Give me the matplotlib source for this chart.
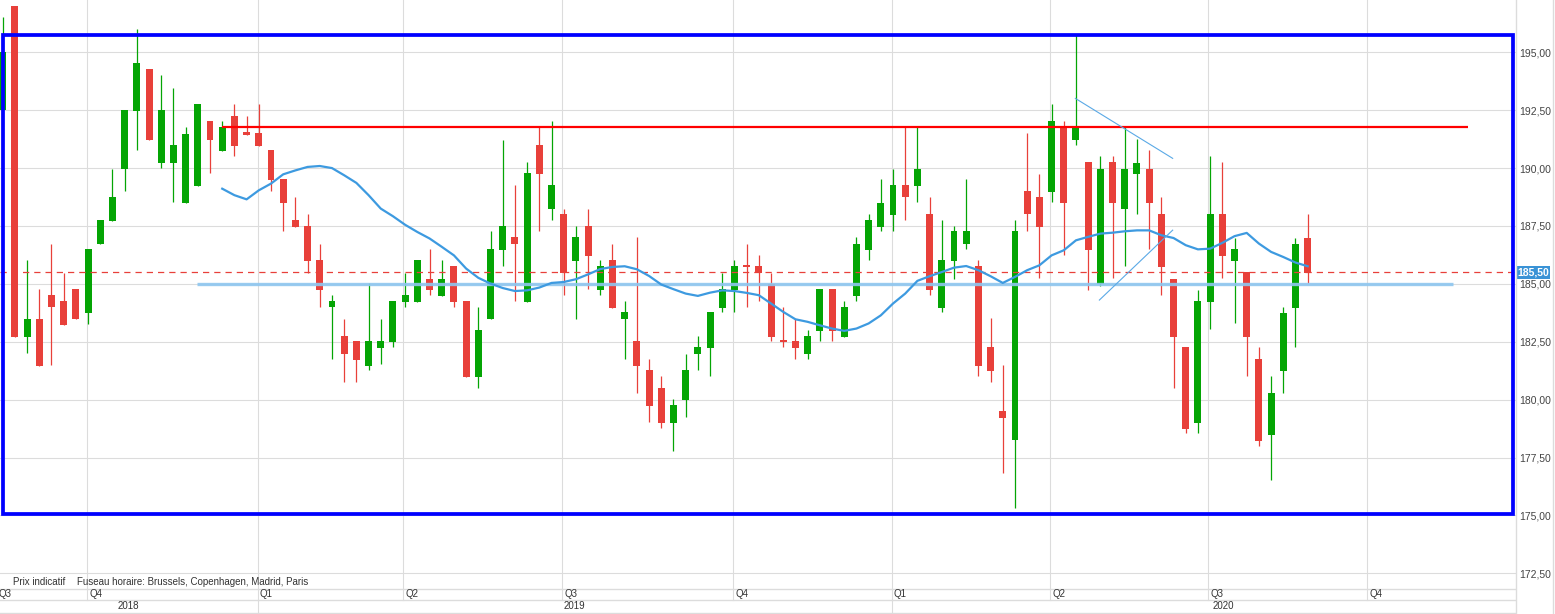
import numpy as np
import matplotlib
matplotlib.use("Agg")
import matplotlib.pyplot as plt
from matplotlib.lines import Line2D
from matplotlib.patches import Rectangle
import matplotlib.transforms as mtransforms

plt.rcParams['font.family'] = ['Liberation Sans', 'DejaVu Sans']

# Bougies hebdomadaires (open, high, low, close)
opens = [192.50, 197.00, 182.71, 183.50, 184.51, 184.25, 184.77, 183.74, 186.71, 187.72,
         189.95, 192.47, 194.27, 190.22, 190.22, 188.50, 189.24, 192.02, 190.74, 192.24,
         191.55, 191.52, 190.77, 189.52, 187.75, 187.49, 186.02, 183.98, 182.74, 182.52,
         181.46, 182.23, 182.49, 184.22, 184.22, 185.23, 184.48, 185.76, 184.25, 180.98,
         183.50, 186.45, 187.03, 184.22, 190.98, 188.22, 188.01, 185.98, 187.49, 184.72,
         186.02, 183.47, 182.53, 181.27, 180.50, 178.99, 179.97, 181.96, 182.23, 183.96,
         184.72, 185.80, 185.76, 185.01, 182.56, 182.53, 181.96, 182.97, 184.77, 182.71,
         184.48, 186.45, 187.46, 187.96, 189.26, 189.21, 188.00, 183.96, 185.98, 186.74,
         185.76, 182.28, 179.50, 178.25, 189.00, 188.75, 188.97, 191.78, 191.23, 190.26,
         184.98, 190.26, 188.22, 189.73, 189.98, 188.00, 185.23, 182.28, 178.99, 184.22,
         188.00, 185.98, 185.52, 181.74, 178.46, 181.24, 183.96, 187.00]
highs = [196.53, 197.00, 186.02, 184.77, 186.74, 185.49, 184.77, 186.49, 187.75, 189.98,
         192.50, 195.99, 194.27, 194.01, 193.48, 191.78, 192.75, 192.02, 192.02, 192.75,
         192.24, 192.75, 190.77, 189.52, 188.73, 188.00, 186.74, 184.51, 183.50, 182.52,
         185.04, 183.50, 184.25, 185.49, 186.02, 186.49, 186.02, 185.76, 184.25, 183.98,
         187.27, 191.23, 189.26, 190.25, 191.78, 192.02, 188.25, 187.49, 188.25, 186.02,
         186.74, 184.25, 187.03, 181.74, 181.01, 180.02, 181.99, 182.74, 183.79, 185.49,
         186.02, 186.74, 186.23, 185.49, 184.00, 183.50, 183.00, 184.77, 184.77, 184.25,
         187.03, 188.00, 189.52, 189.98, 191.78, 191.78, 188.75, 187.75, 187.49, 189.52,
         186.02, 183.53, 181.49, 187.75, 191.52, 189.76, 192.75, 192.02, 195.73, 190.26,
         190.51, 190.51, 191.78, 191.24, 190.77, 188.75, 185.23, 182.28, 184.75, 190.51,
         190.26, 187.00, 185.52, 182.28, 181.01, 184.00, 187.00, 188.00]
lows = [192.50, 182.71, 182.02, 181.46, 181.49, 183.21, 183.47, 183.26, 186.71, 187.72,
        189.00, 190.77, 191.20, 190.00, 188.54, 188.50, 189.24, 189.79, 190.74, 190.52,
        191.45, 190.95, 189.00, 187.27, 187.46, 185.49, 184.00, 181.74, 180.77, 180.77,
        181.30, 181.52, 182.28, 184.00, 184.22, 184.51, 184.48, 184.00, 180.98, 180.52,
        183.50, 185.77, 184.25, 184.22, 187.27, 187.75, 184.51, 183.50, 184.77, 184.51,
        183.96, 181.77, 180.29, 179.04, 178.78, 177.79, 179.25, 181.27, 181.01, 183.79,
        183.79, 184.00, 184.25, 182.53, 182.28, 181.74, 181.74, 182.53, 182.53, 182.71,
        184.25, 186.02, 187.27, 187.27, 187.75, 188.54, 184.51, 183.79, 185.23, 186.49,
        181.01, 180.77, 176.81, 175.30, 187.28, 185.27, 188.54, 186.23, 190.98, 184.75,
        184.90, 185.27, 185.76, 188.00, 186.49, 184.51, 180.51, 178.54, 178.54, 183.03,
        185.27, 183.29, 181.01, 177.99, 176.52, 180.29, 182.28, 185.04]
closes = [195.00, 182.71, 183.50, 181.46, 183.98, 183.21, 183.47, 186.49, 187.75, 188.73,
          192.50, 194.54, 191.20, 192.50, 190.98, 191.49, 192.75, 191.20, 191.78, 190.95,
          191.45, 190.95, 189.47, 188.50, 187.46, 185.99, 184.72, 184.25, 181.99, 181.73,
          182.52, 182.52, 184.25, 184.51, 186.02, 184.72, 185.23, 184.22, 180.98, 183.00,
          186.49, 187.49, 186.71, 189.79, 189.73, 189.26, 185.47, 187.03, 186.20, 185.76,
          183.96, 183.79, 181.46, 179.73, 178.99, 179.76, 181.27, 182.28, 183.79, 184.77,
          185.76, 185.72, 185.47, 182.71, 182.50, 182.23, 182.74, 184.77, 182.97, 183.98,
          186.74, 187.75, 188.51, 189.26, 188.73, 189.98, 184.72, 186.02, 187.27, 187.27,
          181.46, 181.24, 179.21, 187.27, 188.00, 187.46, 192.02, 188.50, 191.78, 186.45,
          189.98, 188.50, 189.98, 190.24, 188.50, 185.73, 182.71, 178.75, 184.25, 188.00,
          186.20, 186.49, 182.71, 178.21, 180.29, 183.76, 186.74, 185.49]

# Moyenne mobile, à partir de la bougie 18
ma_start = 18
ma_values = [189.11, 188.83, 188.65, 189.04, 189.33, 189.73, 189.90, 190.05, 190.09, 190.00,
             189.69, 189.36, 188.83, 188.25, 187.92, 187.55, 187.24, 186.96, 186.60, 186.23,
             185.66, 185.26, 185.01, 184.82, 184.69, 184.72, 184.84, 185.04, 185.08, 185.20,
             185.41, 185.64, 185.73, 185.76, 185.63, 185.34, 184.97, 184.77, 184.58, 184.48,
             184.62, 184.72, 184.69, 184.61, 184.51, 184.15, 183.79, 183.47, 183.36, 183.21,
             183.07, 182.97, 183.07, 183.29, 183.64, 184.15, 184.58, 185.13, 185.33, 185.51,
             185.70, 185.77, 185.59, 185.33, 185.04, 185.30, 185.59, 185.80, 186.23, 186.45,
             186.88, 187.03, 187.17, 187.21, 187.27, 187.31, 187.31, 187.10, 186.98, 186.67,
             186.49, 186.52, 186.77, 187.06, 187.20, 186.74, 186.38, 186.16, 185.92, 185.76]

# Axe du temps
quarter_pos = [6.95, 20.9, 32.85, 45.9, 59.9, 72.9, 85.9, 98.85, 111.9]
quarter_labels = ['Q4', 'Q1', 'Q2', 'Q3', 'Q4', 'Q1', 'Q2', 'Q3', 'Q4']
year_labels = ['2018', '2019', '2020']
year_bounds = [-0.22, 20.9, 72.9, 127.3]

# Tracés (niveaux / lignes dessinées)
last_price = 185.50
resistance = (17.97, 120.15, 191.76)
support = (15.96, 118.9, 185.0)
box = (0.02, 123.8, 175.07, 195.73)
trend_down = ([87.95, 95.93], [193.01, 190.42])
trend_up = ([89.92, 95.93], [184.30, 187.32])

RED = '#e8403a'
GREEN = '#04a504'
GRID = '#dcdcdc'

W, H = 1555, 614
PLOT_BOTTOM = 588.3
PLOT_RIGHT = 1516
XMIN, XMAX = -0.22, 124.08
YMIN, YMAX = 171.852, 197.259

fig = plt.figure(figsize=(W / 100, H / 100), dpi=100)
ax = fig.add_axes([0, (H - PLOT_BOTTOM) / H, PLOT_RIGHT / W, PLOT_BOTTOM / H])
ax.set_xlim(XMIN, XMAX)
ax.set_ylim(YMIN, YMAX)
for s in ax.spines.values():
    s.set_visible(False)

ax.set_yticks(np.arange(172.5, 195.01, 2.5))
ax.set_yticklabels([f"{v:.2f}".replace('.', ',') for v in np.arange(172.5, 195.01, 2.5)])
ax.yaxis.tick_right()
ax.tick_params(axis='y', length=0, pad=2, labelsize=7.5, colors='#444444')
ax.set_xticks(quarter_pos)
ax.tick_params(axis='x', length=0, labelbottom=False)
ax.grid(True, color=GRID, lw=0.8)
ax.set_axisbelow(True)

# bougies
o = np.array(opens); h = np.array(highs); l = np.array(lows); c = np.array(closes)
x = np.arange(len(o))
up = c >= o
cols = np.where(up, GREEN, RED)
ax.vlines(x, l, h, colors=cols, lw=0.9, zorder=2)
body_lo = np.minimum(o, c)
body_h = np.maximum(np.abs(c - o), 0.06)
ax.bar(x, body_h, bottom=body_lo, width=0.57, color=cols, zorder=3, linewidth=0)

# lignes
ax.axhline(last_price, color=RED, lw=0.9, ls=(0, (5, 4)), zorder=4)
ax.plot([support[0], support[1]], [support[2]] * 2, color='#8ec6ef', lw=2.4, alpha=0.9, zorder=4,
        solid_capstyle='butt')
ax.plot([resistance[0], resistance[1]], [resistance[2]] * 2, color='#ff0000', lw=1.6, zorder=5,
        solid_capstyle='butt')
ma_x = np.arange(ma_start, ma_start + len(ma_values))
ax.plot(ma_x, ma_values, color='#3d9ae0', lw=1.6, zorder=5)
ax.plot(*trend_down, color='#5aa9e6', lw=0.8, zorder=5)
ax.plot(*trend_up, color='#5aa9e6', lw=0.8, zorder=5)
ax.add_patch(Rectangle((box[0], box[2]), box[1] - box[0], box[3] - box[2], fill=False,
                       edgecolor='#0000ff', lw=2.7, zorder=6))

# étiquette du dernier cours
trans = mtransforms.blended_transform_factory(ax.transAxes, ax.transData)
ax.text(1.0007, last_price, f"{last_price:.2f}".replace('.', ','), transform=trans,
        ha='left', va='center', fontsize=7.5, fontweight='bold', color='white', zorder=7,
        bbox=dict(boxstyle='square,pad=0.12', fc='#3a93d6', ec='none'), clip_on=False)

ax.text(12.7 / PLOT_RIGHT, (PLOT_BOTTOM - 581.7) / PLOT_BOTTOM, 'Prix indicatif',
        transform=ax.transAxes, fontsize=7, color='#333333', va='center', ha='left')
ax.text(77.3 / PLOT_RIGHT, (PLOT_BOTTOM - 581.7) / PLOT_BOTTOM,
        'Fuseau horaire: Brussels, Copenhagen, Madrid, Paris',
        transform=ax.transAxes, fontsize=7, color='#333333', va='center', ha='left')

# bandeau des dates
axb = fig.add_axes([0, 0, PLOT_RIGHT / W, (H - PLOT_BOTTOM) / H])
axb.set_xlim(XMIN, XMAX)
axb.set_ylim(0, H - PLOT_BOTTOM)
axb.axis('off')
top = H - PLOT_BOTTOM
mid = H - 600
for yy in (top - 0.4, mid, 1.3):
    axb.axhline(yy, color=GRID, lw=1)
for p in quarter_pos:
    axb.plot([p, p], [mid, top], color=GRID, lw=0.8)
for p in year_bounds[1:-1]:
    axb.plot([p, p], [1.3, mid], color=GRID, lw=0.8)
axb.text(XMIN - 0.1, (mid + top) / 2, 'Q3', fontsize=7, color='#333333', va='center', ha='left')
for p, lab in zip(quarter_pos, quarter_labels):
    axb.text(p + 0.15, (mid + top) / 2, lab, fontsize=7, color='#333333', va='center', ha='left')
for i, lab in enumerate(year_labels):
    xc = (year_bounds[i] + year_bounds[i + 1]) / 2
    axb.text(xc, (1.3 + mid) / 2, lab, fontsize=7, color='#333333', va='center', ha='center')

# séparateurs de l'axe de droite
for xf in (PLOT_RIGHT / W, 1553 / W):
    fig.add_artist(Line2D([xf, xf], [0, 1], transform=fig.transFigure, color=GRID, lw=1))

fig.savefig('out.png', dpi=100)
